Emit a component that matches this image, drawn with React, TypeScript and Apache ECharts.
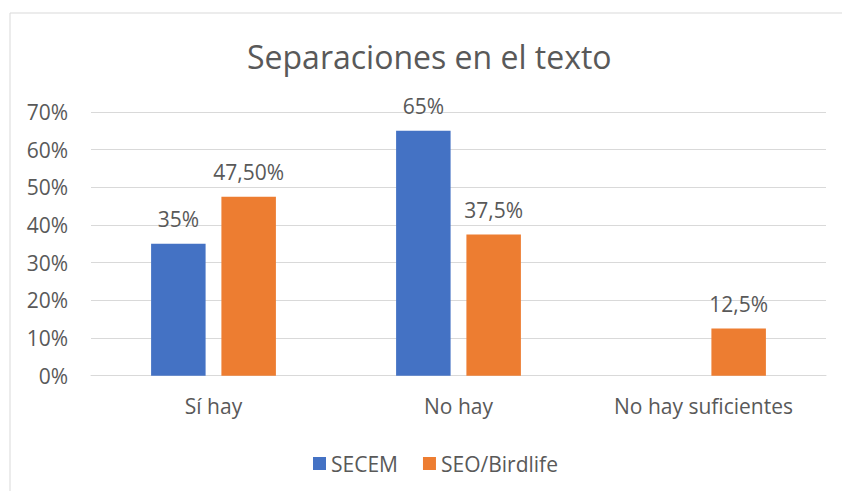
import React, { useEffect, useRef } from "react";
import * as echarts from "echarts";

const categories = ["Sí hay", "No hay", "No hay suficientes"];
const secemValues = [35, 65, 0];
const seoValues = [47.5, 37.5, 12.5];
const secemLabels = ["35%", "65%", ""];
const seoLabels = ["47,50%", "37,5%", "12,5%"];
const yTicks = [0, 10, 20, 30, 40, 50, 60, 70];

const FONT = "'Open Sans', sans-serif";
const TEXT = "#595959";
const FS = 21;

export default function App() {
  const ref = useRef<HTMLDivElement>(null);
  useEffect(() => {
    if (!ref.current) return;
    const chart = echarts.init(ref.current, undefined, { renderer: "svg" });
    chart.setOption({
      animation: false,
      backgroundColor: "#ffffff",
      textStyle: { fontFamily: FONT },
      title: {
        text: "Separaciones en el texto",
        left: 247,
        top: 40,
        padding: 0,
        textStyle: { fontFamily: FONT, fontSize: 32, fontWeight: "normal", color: TEXT },
      },
      graphic: [
        {
          type: "rect",
          shape: { x: 10, y: 13, width: 850, height: 500 },
          style: { fill: "none", stroke: "#d9d9d9", lineWidth: 1 },
          silent: true,
        },
      ],
      legend: {
        left: 313,
        top: 453,
        padding: 0,
        itemWidth: 13,
        itemHeight: 13,
        itemGap: 25,
        icon: "rect",
        textStyle: { fontFamily: FONT, fontSize: FS, color: TEXT },
        data: ["SECEM", "SEO/Birdlife"],
      },
      grid: { left: 91, right: 16, top: 112, bottom: 115.3, containLabel: false },
      xAxis: {
        type: "category",
        data: categories,
        axisTick: { show: false },
        axisLine: { lineStyle: { color: "#d9d9d9", width: 1 } },
        axisLabel: { margin: 20, fontFamily: FONT, fontSize: FS, color: TEXT },
      },
      yAxis: {
        type: "value",
        min: yTicks[0],
        max: yTicks[yTicks.length - 1],
        interval: 10,
        axisLine: { show: false },
        axisTick: { show: false },
        splitLine: { lineStyle: { color: "#d9d9d9", width: 1 } },
        axisLabel: { margin: 23, formatter: "{value}%", fontFamily: FONT, fontSize: FS, color: TEXT },
      },
      series: [
        {
          name: "SECEM",
          type: "bar",
          data: secemValues,
          barWidth: 54.5,
          barGap: "29%",
          itemStyle: { color: "#4472C4" },
          label: {
            show: true,
            position: "top",
            distance: 14,
            fontFamily: FONT,
            fontSize: FS,
            color: TEXT,
            formatter: (p: any) => secemLabels[p.dataIndex],
          },
        },
        {
          name: "SEO/Birdlife",
          type: "bar",
          data: seoValues,
          barWidth: 54.5,
          barGap: "29%",
          itemStyle: { color: "#ED7D31" },
          label: {
            show: true,
            position: "top",
            distance: 14,
            fontFamily: FONT,
            fontSize: FS,
            color: TEXT,
            formatter: (p: any) => seoLabels[p.dataIndex],
          },
        },
      ],
    });
    return () => chart.dispose();
  }, []);
  return (
    <div
      ref={ref}
      style={{ position: "absolute", left: 0, top: 0, width: 842, height: 491 }}
    />
  );
}
